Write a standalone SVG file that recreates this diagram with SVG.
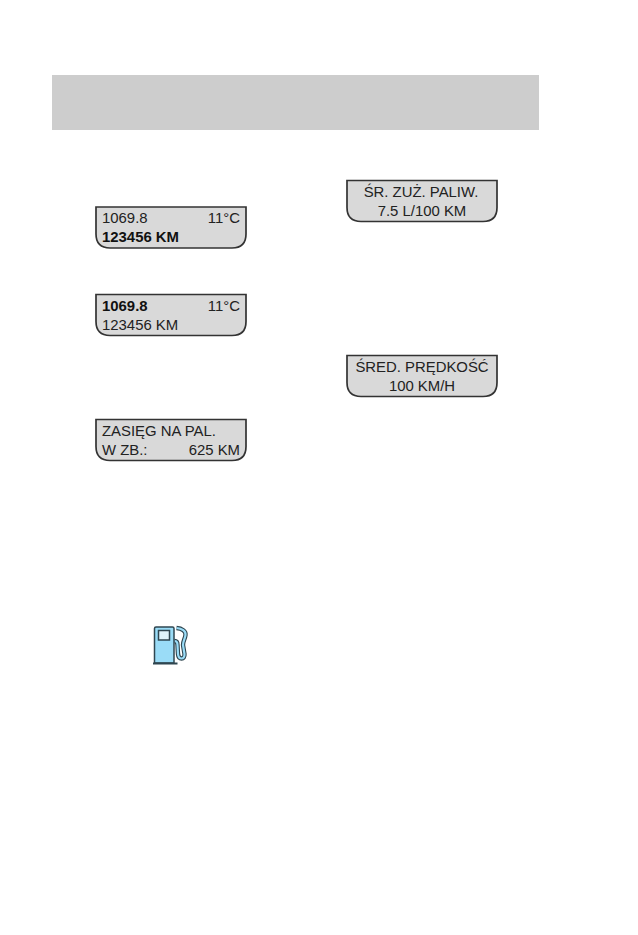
<svg xmlns="http://www.w3.org/2000/svg" width="638" height="935" viewBox="0 0 638 935">
  <style>
    .panel { fill: #d9d9d9; stroke: #333333; stroke-width: 1.7; }
    text { font-family: "Liberation Sans", Arial, sans-serif; font-size: 14.9px; fill: #222222; }
    .b { font-weight: bold; fill: #111111; }
    .m { text-anchor: middle; }
    .e { text-anchor: end; }
    .hose { fill: none; stroke-linejoin: round; }
  </style>
  <defs>
    <path id="display" d="M0 0H150V27Q150 41 136 41H14Q0 41 0 27Z"/>
    <path id="hose-line" d="M176.500 628C182 628.500 186 631 185.500 635C185 639 183 641 183 645L184.500 654C185 660 178.500 660 178 654L177.500 645C177.500 642 176 641 174.500 641"/>
  </defs>
  <rect width="638" height="935" fill="#ffffff"/>
  <rect id="header-band" x="52" y="75" width="487" height="55" fill="#cdcdcd"/>

  <g id="display-trip-odometer">
    <use href="#display" x="96" y="207" class="panel"/>
    <text x="102" y="222.500">1069.8</text>
    <text x="240" y="222.500" class="e">11°C</text>
    <text x="102" y="241.500" class="b">123456 KM</text>
  </g>
  <g id="display-odometer">
    <use href="#display" x="96" y="294.500" class="panel"/>
    <text x="102" y="310.500" class="b">1069.8</text>
    <text x="240" y="310.500" class="e">11°C</text>
    <text x="102" y="329.500">123456 KM</text>
  </g>
  <g id="display-range">
    <use href="#display" x="96" y="419.500" class="panel"/>
    <text x="102" y="435.500">ZASIĘG NA PAL.</text>
    <text x="102" y="454.500">W ZB.:</text>
    <text x="240" y="454.500" class="e">625 KM</text>
  </g>
  <g id="display-fuel-economy">
    <use href="#display" x="347" y="180.500" class="panel"/>
    <text x="421" y="196.500" class="m">ŚR. ZUŻ. PALIW.</text>
    <text x="422" y="215.500" class="m">7.5 L/100 KM</text>
  </g>
  <g id="display-average-speed">
    <use href="#display" x="347" y="355.500" class="panel"/>
    <text x="422" y="371.500" class="m">ŚRED. PRĘDKOŚĆ</text>
    <text x="422" y="390.500" class="m">100 KM/H</text>
  </g>

  <g id="fuel-pump-icon">
    <use href="#hose-line" class="hose" stroke="#2f4650" stroke-width="4.400"/>
    <use href="#hose-line" class="hose" stroke="#9adcf7" stroke-width="2.200"/>
    <path d="M154.500 628.500Q154.500 627 156 627H172.500Q174 627 174 628.500V663H154.500Z" fill="#9adcf7" stroke="#2f4650" stroke-width="1.500"/>
    <rect x="153" y="662.500" width="24.500" height="2" fill="#2f4650"/>
    <rect x="158.500" y="630.500" width="11" height="9.500" fill="#dff3fb" stroke="#2f4650" stroke-width="1.500"/>
  </g>
</svg>
